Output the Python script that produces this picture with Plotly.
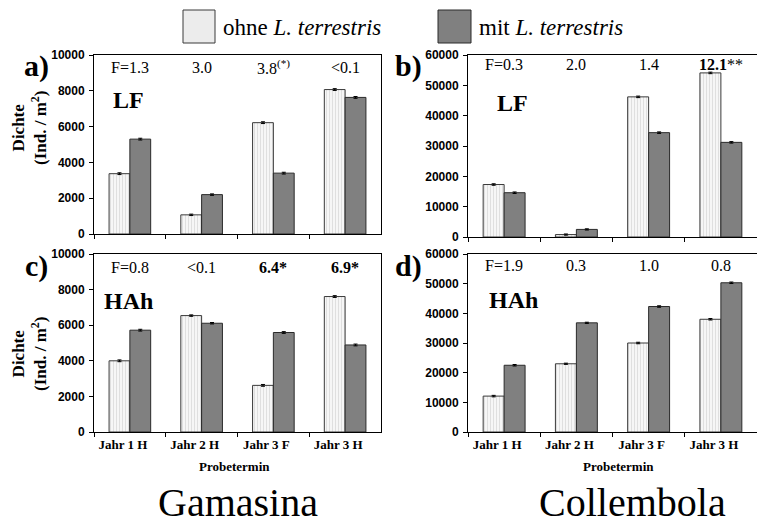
import plotly.graph_objects as go

# ---------------- data ----------------
categories = ["Jahr 1 H", "Jahr 2 H", "Jahr 3 F", "Jahr 3 H"]

gam_lf_ohne = [3370, 1070, 6220, 8070]
gam_lf_mit = [5300, 2200, 3400, 7630]
gam_hah_ohne = [4000, 6540, 2620, 7610]
gam_hah_mit = [5720, 6110, 5590, 4890]

col_lf_ohne = [17300, 800, 46200, 54100]
col_lf_mit = [14600, 2500, 34400, 31200]
col_hah_ohne = [12100, 23000, 30000, 38000]
col_hah_mit = [22500, 36800, 42300, 50300]

gam_err = [50, 40, 50, 50]
col_err = [250, 200, 250, 250]

f_a = ["F=1.3", "3.0", "3.8<sup>(*)</sup>", "&lt;0.1"]
f_b = ["F=0.3", "2.0", "1.4", "<b>12.1</b>**"]
f_c = ["F=0.8", "&lt;0.1", "<b>6.4*</b>", "<b>6.9*</b>"]
f_d = ["F=1.9", "0.3", "1.0", "0.8"]

legend_names = ["ohne <i>L. terrestris</i>", "mit <i>L. terrestris</i>"]

W, H = 757, 527
SERIF = "Liberation Serif"
SANS = "Liberation Sans"


def xp(px):
    return px / W


def yp(py):
    return 1 - py / H


fig = go.Figure()

panels = [
    ("x", "y", gam_lf_ohne, gam_lf_mit, gam_err),
    ("x2", "y2", col_lf_ohne, col_lf_mit, col_err),
    ("x3", "y3", gam_hah_ohne, gam_hah_mit, gam_err),
    ("x4", "y4", col_hah_ohne, col_hah_mit, col_err),
]

for i, (xa, ya, ohne, mit, err) in enumerate(panels):
    fig.add_trace(go.Bar(
        x=categories, y=ohne, xaxis=xa, yaxis=ya, name=legend_names[0],
        showlegend=False, offsetgroup="ohne",
        marker=dict(color="#f6f6f6", line=dict(color="#3a3a3a", width=1),
                    pattern=dict(shape="|", fgcolor="#c4c4c4", bgcolor="#f6f6f6",
                                 size=3, solidity=0.3)),
        error_y=dict(type="data", array=err, visible=True, color="black",
                     thickness=1, width=2),
    ))
    fig.add_trace(go.Bar(
        x=categories, y=mit, xaxis=xa, yaxis=ya, name=legend_names[1],
        showlegend=False, offsetgroup="mit",
        marker=dict(color="#808080", line=dict(color="#2a2a2a", width=1)),
        error_y=dict(type="data", array=err, visible=True, color="black",
                     thickness=1, width=2),
    ))

dom = {
    "a": dict(x=[xp(94), xp(381)], y=[yp(234), yp(55)]),
    "b": dict(x=[xp(468), 1.0], y=[yp(237), yp(55)]),
    "c": dict(x=[xp(94), xp(381)], y=[yp(432), yp(254)]),
    "d": dict(x=[xp(468), 1.0], y=[yp(432), yp(254)]),
}

tickfont_y = dict(family=SANS, size=12, color="black", weight="bold")
tickfont_x = dict(family=SERIF, size=13, color="black", weight="bold")


def xaxis(d, anchor, labels):
    return dict(domain=d, anchor=anchor, type="category",
                showline=True, linecolor="black", linewidth=1, mirror=True,
                ticks="outside", tickson="boundaries", ticklen=4,
                tickcolor="black", showgrid=False, zeroline=False,
                showticklabels=labels, tickfont=tickfont_x,
                ticklabelshift=-7)


def yaxis(d, anchor, ymax, dtick):
    return dict(domain=d, anchor=anchor, range=[0, ymax], dtick=dtick,
                tickformat="d",
                showline=True, linecolor="black", linewidth=1, mirror=True,
                ticks="outside", ticklen=4, tickcolor="black",
                showgrid=False, zeroline=False, tickfont=tickfont_y,
                ticklabelstandoff=2)


fig.update_layout(
    width=W, height=H,
    margin=dict(l=0, r=0, t=0, b=0, pad=0, autoexpand=False),
    paper_bgcolor="white", plot_bgcolor="white",
    barmode="group", bargap=0.42, bargroupgap=0,
    showlegend=False,
    xaxis=xaxis(dom["a"]["x"], "y", False),
    yaxis=yaxis(dom["a"]["y"], "x", 10000, 2000),
    xaxis2=xaxis(dom["b"]["x"], "y2", False),
    yaxis2=yaxis(dom["b"]["y"], "x2", 60000, 10000),
    xaxis3=xaxis(dom["c"]["x"], "y3", True),
    yaxis3=yaxis(dom["c"]["y"], "x3", 10000, 2000),
    xaxis4=xaxis(dom["d"]["x"], "y4", True),
    yaxis4=yaxis(dom["d"]["y"], "x4", 60000, 10000),
)

ann = []

# F values
for xref, labels, py in [("x", f_a, 67), ("x2", f_b, 65), ("x3", f_c, 267), ("x4", f_d, 265)]:
    for cat, t in zip(categories, labels):
        ann.append(dict(x=cat, xref=xref, y=yp(py), yref="paper", text=t,
                        showarrow=False, xanchor="center", yanchor="middle",
                        font=dict(family=SERIF, size=16, color="black")))

# panel letters
for t, px, py in [("a)", 36, 66), ("b)", 408, 66), ("c)", 36, 266), ("d)", 408, 266)]:
    ann.append(dict(x=xp(px), y=yp(py), xref="paper", yref="paper", text=f"<b>{t}</b>",
                    showarrow=False, xanchor="center", yanchor="middle",
                    font=dict(family=SERIF, size=30, color="black")))

# horizon labels
for t, px, py in [("LF", 128, 100), ("LF", 512, 103), ("HAh", 128, 301), ("HAh", 513, 300)]:
    ann.append(dict(x=xp(px), y=yp(py), xref="paper", yref="paper", text=f"<b>{t}</b>",
                    showarrow=False, xanchor="center", yanchor="middle",
                    font=dict(family=SERIF, size=24, color="black")))

# y titles
for py in [128, 354]:
    ann.append(dict(x=xp(29), y=yp(py), xref="paper", yref="paper",
                    text="<b>Dichte<br>(Ind. / m<sup>2</sup>)</b>", textangle=-90,
                    showarrow=False, xanchor="center", yanchor="middle",
                    font=dict(family=SERIF, size=17, color="black")))

# x titles
for px in [235, 618]:
    ann.append(dict(x=xp(px), y=yp(466), xref="paper", yref="paper",
                    text="<b>Probetermin</b>", showarrow=False,
                    xanchor="center", yanchor="middle",
                    font=dict(family=SERIF, size=13, color="black")))

# group titles
for t, px in [("Gamasina", 238), ("Collembola", 632)]:
    ann.append(dict(x=xp(px), y=0, xref="paper", yref="paper", text=t,
                    showarrow=False, xanchor="center", yanchor="bottom",
                    font=dict(family=SERIF, size=40, color="black")))

# legend texts
for t, px in [(legend_names[0], 221), (legend_names[1], 477)]:
    ann.append(dict(x=xp(px), y=yp(27), xref="paper", yref="paper", text=t,
                    showarrow=False, xanchor="left", yanchor="middle",
                    font=dict(family=SERIF, size=23, color="black")))

fig.update_layout(annotations=ann)

shapes = [
    dict(type="rect", xref="paper", yref="paper", x0=xp(183), x1=xp(215),
         y0=yp(43), y1=yp(10), fillcolor="#ececec",
         line=dict(color="#3a3a3a", width=1)),
    dict(type="rect", xref="paper", yref="paper", x0=xp(438), x1=xp(471),
         y0=yp(43), y1=yp(10), fillcolor="#808080",
         line=dict(color="#2a2a2a", width=1)),
]
fig.update_layout(shapes=shapes)

fig.write_html("out.html",
               config={"displayModeBar": False},
               post_script="document.body.style.margin='0px';")
